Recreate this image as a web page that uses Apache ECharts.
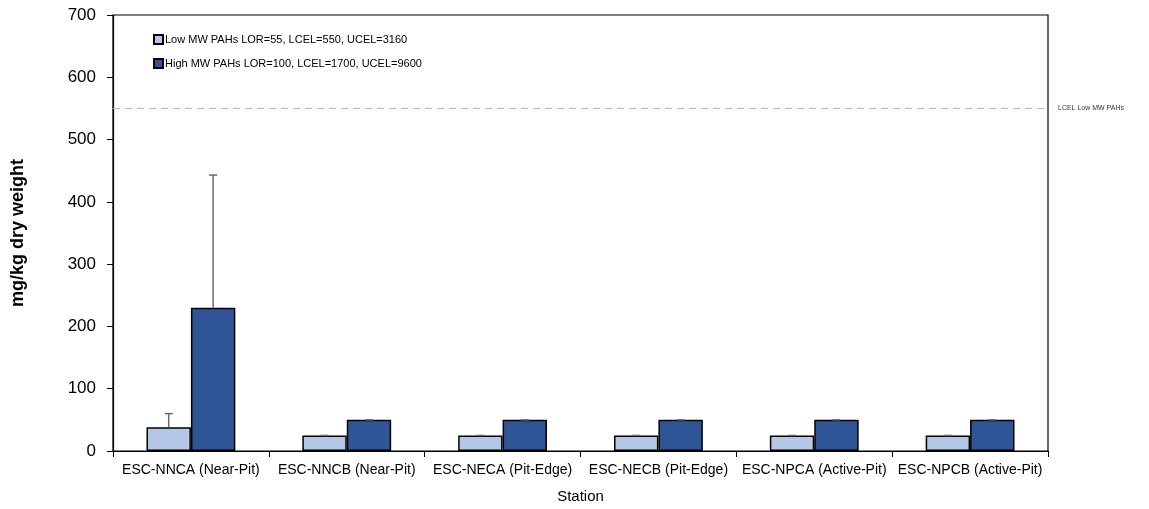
<!DOCTYPE html>
<html>
<head>
<meta charset="utf-8">
<script src="https://cdn.jsdelivr.net/npm/echarts@6/dist/echarts.min.js"></script>
<style>
html,body{margin:0;padding:0;background:#fff;}
#chart{width:1149px;height:509px;}
</style>
</head>
<body>
<div id="chart"></div>
<script>
const categories = ['ESC-NNCA (Near-Pit)','ESC-NNCB (Near-Pit)','ESC-NECA (Pit-Edge)','ESC-NECB (Pit-Edge)','ESC-NPCA (Active-Pit)','ESC-NPCB (Active-Pit)'];
const lowNames = 'Low MW PAHs LOR=55, LCEL=550, UCEL=3160';
const highNames = 'High MW PAHs LOR=100, LCEL=1700, UCEL=9600';
const lowValues = [38, 25, 25, 25, 25, 25];
const highValues = [230, 50, 50, 50, 50, 50];
const lowUpper = [60, 25, 25, 25, 25, 25];
const highUpper = [443, 50, 50, 50, 50, 50];
const lcelLow = 550;
const yTicks = {min: 0, max: 700, interval: 100};

const BAR_FRAC = 0.285;
function errSeries(values, upper, side) {
  return {
    type: 'custom',
    z: 5,
    silent: true,
    data: values.map((v, i) => [i, v, upper[i]]),
    renderItem: function (params, api) {
      const band = api.size([1, 0])[0];
      const off = side * band * BAR_FRAC / 2;
      const base = api.coord([api.value(0), api.value(1)]);
      const top = api.coord([api.value(0), api.value(2)]);
      const x = base[0] + off;
      const children = [];
      if (Math.abs(top[1] - base[1]) > 0.5) {
        children.push({type: 'line', shape: {x1: x, y1: base[1], x2: x, y2: top[1]}, style: {stroke: '#6b6b6b', lineWidth: 1.5}});
      }
      children.push({type: 'line', shape: {x1: x - 4, y1: top[1], x2: x + 4, y2: top[1]}, style: {stroke: '#6b6b6b', lineWidth: 1.5}});
      return {type: 'group', children: children};
    }
  };
}

const chart = echarts.init(document.getElementById('chart'), null, {renderer: 'canvas'});
chart.setOption({
  animation: false,
  backgroundColor: '#fff',
  textStyle: {fontFamily: 'Liberation Sans, Arial, sans-serif'},
  grid: {left: 113, right: 101, top: 15, bottom: 54, show: true, borderColor: '#000', borderWidth: 1.2, backgroundColor: 'transparent'},
  legend: {
    orient: 'vertical', left: 148, top: 29, itemGap: 13, itemWidth: 9, itemHeight: 9, icon: 'rect',
    textStyle: {fontSize: 11, color: '#000', padding: [0, 0, 0, -3]},
    data: [lowNames, highNames]
  },
  xAxis: {
    type: 'category', data: categories,
    name: 'Station', nameLocation: 'middle', nameGap: 38,
    nameTextStyle: {fontSize: 15, color: '#000'},
    axisLine: {lineStyle: {color: '#000', width: 1.2}},
    axisTick: {show: true, interval: 0, length: 6, lineStyle: {color: '#000'}},
    axisLabel: {interval: 0, fontSize: 14, color: '#000', margin: 12}
  },
  yAxis: {
    type: 'value', min: yTicks.min, max: yTicks.max, interval: yTicks.interval,
    name: 'mg/kg dry weight', nameLocation: 'middle', nameGap: 86,
    nameTextStyle: {fontSize: 18, fontWeight: 'bold', color: '#000'},
    axisLine: {show: true, lineStyle: {color: '#000', width: 1.2}},
    axisTick: {show: true, length: 6, lineStyle: {color: '#000'}},
    axisLabel: {fontSize: 17, color: '#000', margin: 17},
    splitLine: {show: false}
  },
  series: [
    {
      name: lowNames, type: 'bar', data: lowValues, barWidth: (BAR_FRAC * 100) + '%', barGap: '0%',
      itemStyle: {color: '#b4c7e7', borderColor: '#000', borderWidth: 1.5},
      markLine: {
        silent: true, symbol: 'none',
        lineStyle: {color: '#a6bfea', type: [7, 5], width: 1.2},
        label: {show: true, position: 'end', formatter: 'LCEL Low MW PAHs', fontSize: 7, color: '#333', distance: 10},
        data: [{yAxis: lcelLow}]
      }
    },
    {
      name: highNames, type: 'bar', data: highValues, barWidth: (BAR_FRAC * 100) + '%', barGap: '0%',
      itemStyle: {color: '#2f5597', borderColor: '#000', borderWidth: 1.5}
    },
    errSeries(lowValues, lowUpper, -1),
    errSeries(highValues, highUpper, 1)
  ]
});
</script>
</body>
</html>
